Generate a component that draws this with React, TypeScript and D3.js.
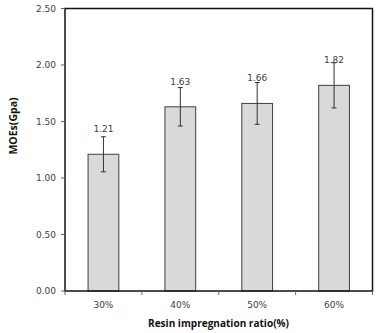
import React from "react";
import * as d3 from "d3";

const categories = ["30%", "40%", "50%", "60%"];
const values = [1.21, 1.63, 1.66, 1.82];
const errors = [0.155, 0.17, 0.185, 0.2];
const yTicks = [0, 0.5, 1.0, 1.5, 2.0, 2.5];

const W = 382;
const H = 333;
const M = { left: 65, top: 8.5, right: 9.5, bottom: 42 };

export default function App() {
  const x = d3
    .scaleBand<string>()
    .domain(categories)
    .range([M.left, W - M.right])
    .paddingInner(0)
    .paddingOuter(0);
  const y = d3.scaleLinear().domain([0, 2.5]).range([H - M.bottom, M.top]);
  const bw = x.bandwidth() * 0.4;
  const font = "Tahoma, 'DejaVu Sans', sans-serif";
  const tc = "#404040";
  const bounds = [...categories.map((c) => x(c)!), x(categories[categories.length - 1])! + x.bandwidth()];

  return (
    <svg
      width={W}
      height={H}
      style={{ position: "absolute", left: 0, top: 0, background: "#fff" }}
    >
      {categories.map((c, i) => {
        const cx = x(c)! + x.bandwidth() / 2;
        return (
          <g key={c}>
            <rect
              x={cx - bw / 2}
              y={y(values[i])}
              width={bw}
              height={y(0) - y(values[i])}
              fill="#d9d9d9"
              stroke="#404040"
              strokeWidth={1}
            />
            <line x1={cx} x2={cx} y1={y(values[i] + errors[i])} y2={y(values[i] - errors[i])} stroke="#333" strokeWidth={1} />
            <line x1={cx - 2.5} x2={cx + 2.5} y1={y(values[i] + errors[i])} y2={y(values[i] + errors[i])} stroke="#333" strokeWidth={1} />
            <line x1={cx - 2.5} x2={cx + 2.5} y1={y(values[i] - errors[i])} y2={y(values[i] - errors[i])} stroke="#333" strokeWidth={1} />
            <text
              x={cx}
              y={y(values[i]) - 22}
              textAnchor="middle"
              fontFamily={font}
              fontSize={9}
              fill={tc}
            >
              {values[i].toFixed(2)}
            </text>
            <text
              x={cx}
              y={H - M.bottom + 17}
              textAnchor="middle"
              fontFamily={font}
              fontSize={9}
              fill={tc}
            >
              {c}
            </text>
          </g>
        );
      })}
      <rect
        x={M.left}
        y={M.top}
        width={W - M.left - M.right}
        height={H - M.top - M.bottom}
        fill="none"
        stroke="#111"
        strokeWidth={1.5}
      />
      {yTicks.map((t) => (
        <g key={t}>
          <line x1={M.left - 4} x2={M.left} y1={y(t)} y2={y(t)} stroke="#666" strokeWidth={1} />
          <text
            x={M.left - 9}
            y={y(t)}
            dy="0.35em"
            textAnchor="end"
            fontFamily={font}
            fontSize={9}
            fill={tc}
          >
            {t.toFixed(2)}
          </text>
        </g>
      ))}
      {bounds.map((b, i) => (
        <line key={i} x1={b} x2={b} y1={y(0)} y2={y(0) + 4} stroke="#666" strokeWidth={1} />
      ))}
      <text
        transform={`translate(17,126) rotate(-90)`}
        textAnchor="middle"
        fontFamily="'Open Sans', 'Liberation Sans', sans-serif"
        fontWeight="bold"
        fontSize={10.5}
        fill="#111"
      >
        MOEs(Gpa)
      </text>
      <text
        x={218.5}
        y={327}
        textAnchor="middle"
        fontFamily="'Open Sans', 'Liberation Sans', sans-serif"
        fontWeight="bold"
        fontSize={10.5}
        textLength={141}
        lengthAdjust="spacingAndGlyphs"
        fill="#111"
      >
        Resin impregnation ratio(%)
      </text>
    </svg>
  );
}
